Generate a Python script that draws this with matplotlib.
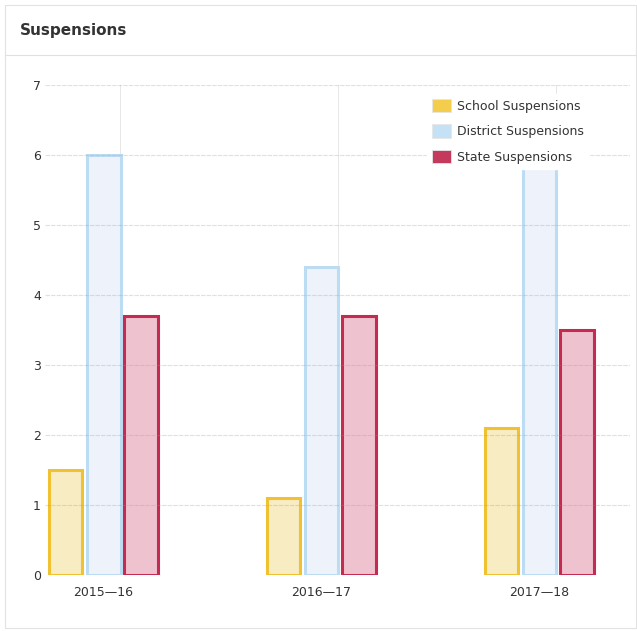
import matplotlib
matplotlib.use("Agg")
import matplotlib.pyplot as plt
from matplotlib.patches import Patch, Rectangle
from matplotlib.lines import Line2D
import numpy as np

plt.rcParams['font.family'] = ['Verdana', 'DejaVu Sans']

years = ["2015\u201416", "2016\u201417", "2017\u201418"]
school = [1.5, 1.1, 2.1]
district = [6.0, 4.4, 6.0]
state = [3.7, 3.7, 3.5]
series_names = ["School Suspensions", "District Suspensions", "State Suspensions"]

fills = ["#f8ecc3", "#eef3fb", "#efc2cf"]
edges = ["#f0c232", "#bcdcf4", "#c52a50"]
swatches = ["#f5cd4c", "#c5e1f6", "#c43a5c"]

fig = plt.figure(figsize=(6.37, 6.31), dpi=100)
fig.patch.set_facecolor("white")

# card frame and header separator
fig.add_artist(Rectangle((0.008, 0.004), 0.99, 0.988, transform=fig.transFigure,
                         fill=False, edgecolor="#e2e2e2", linewidth=0.8))
fig.add_artist(Line2D([0.008, 0.998], [1 - 55 / 631, 1 - 55 / 631], transform=fig.transFigure,
                      color="#e0e0e0", linewidth=0.8))
fig.text(20 / 637, 1 - 31 / 631, "Suspensions", fontsize=11, fontweight="bold",
         color="#333333", va="center", ha="left", family=["DejaVu Sans"])

ax = fig.add_axes([45 / 637, 56 / 631, (630 - 45) / 637, (575 - 85) / 631])
x = np.arange(len(years))
width = 0.155
offsets = [-0.172, 0.003, 0.176]
for vals, off, fc, ec, name in zip([school, district, state], offsets, fills, edges, series_names):
    ax.bar(x + off, vals, width=width, color=fc, edgecolor=ec, linewidth=2.2, zorder=2, label=name)

ax.set_ylim(0, 7)
ax.set_xlim(-0.266, 2.418)
ax.set_yticks(range(0, 8))
ax.set_xticks(x)
ax.set_xticklabels(years)
ax.tick_params(axis="both", length=0, labelsize=9, colors="#333333")
ax.tick_params(axis="y", pad=3)
ax.tick_params(axis="x", pad=8)
for sp in ax.spines.values():
    sp.set_visible(False)

for yv in range(1, 8):
    ax.axhline(yv, color="#9a9a9a", alpha=0.3, linewidth=0.8, linestyle=(0, (4, 1)), zorder=3)
for xv in x + 0.078:
    ax.axvline(xv, color="#cfcfcf", alpha=0.5, linewidth=0.7, zorder=1)

handles = [Patch(facecolor=c, edgecolor="#e6e6e6", linewidth=0.6) for c in swatches]
leg = ax.legend(handles, series_names, loc="upper right", bbox_to_anchor=(0.94, 0.995),
                fontsize=9, frameon=True, framealpha=1.0, edgecolor="white",
                handlelength=1.5, handleheight=1.25, handletextpad=0.5, labelspacing=0.95,
                borderpad=0.4, fancybox=False)
leg.set_zorder(5)
for t in leg.get_texts():
    t.set_color("#333333")

fig.savefig("out.png", dpi=100, facecolor="white")
